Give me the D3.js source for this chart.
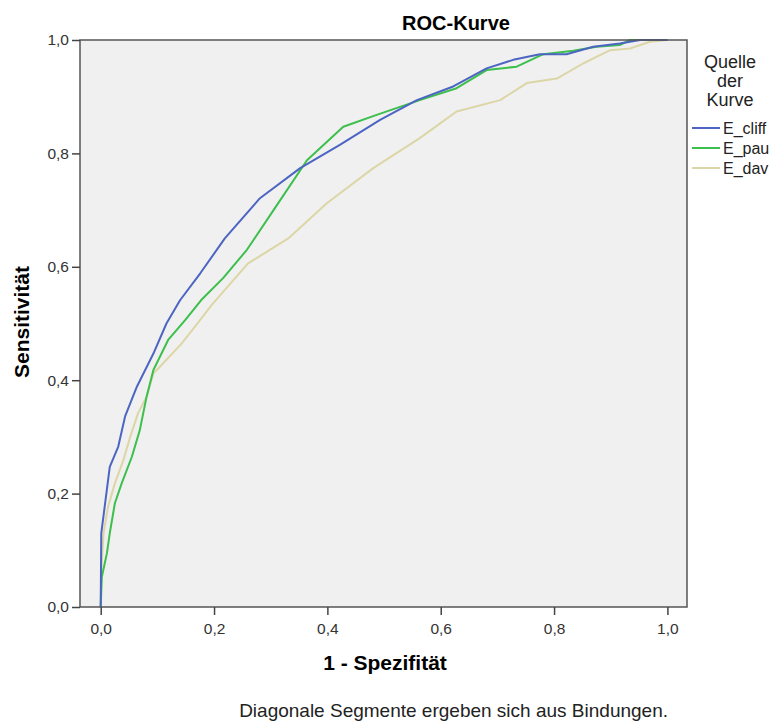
<!DOCTYPE html>
<html>
<head>
<meta charset="utf-8">
<script src="https://cdn.jsdelivr.net/npm/d3@7"></script>
<style>
  body { margin: 0; background: #fff; }
  svg { font-family: 'Liberation Sans', Arial, sans-serif; }
</style>
</head>
<body>
<div id="chart"></div>
<script>
// ROC points: [1 - Spezifität, Sensitivität]
const cliff = [
  [0, 0], [0.001, 0.13], [0.016, 0.247], [0.031, 0.283], [0.043, 0.336],
  [0.064, 0.389], [0.093, 0.447], [0.116, 0.5], [0.14, 0.541], [0.176, 0.589],
  [0.219, 0.65], [0.281, 0.721], [0.352, 0.774], [0.422, 0.815], [0.493, 0.859],
  [0.558, 0.894], [0.622, 0.918], [0.681, 0.95], [0.728, 0.965], [0.775, 0.975],
  [0.822, 0.975], [0.869, 0.988], [0.916, 0.994], [0.952, 1], [1, 1]
]
const pau = [
  [0, 0], [0.002, 0.053], [0.011, 0.095], [0.016, 0.13], [0.025, 0.183],
  [0.037, 0.218], [0.055, 0.265], [0.069, 0.312], [0.081, 0.371], [0.093, 0.418],
  [0.119, 0.471], [0.149, 0.506], [0.177, 0.541], [0.216, 0.58], [0.258, 0.63],
  [0.305, 0.7], [0.364, 0.788], [0.428, 0.847], [0.487, 0.868], [0.563, 0.894],
  [0.628, 0.915], [0.681, 0.947], [0.734, 0.953], [0.781, 0.975], [0.834, 0.981],
  [0.875, 0.988], [0.916, 0.991], [0.934, 1], [1, 1]
]
const dav = [
  [0, 0], [0.001, 0.06], [0.005, 0.13], [0.013, 0.177], [0.025, 0.218],
  [0.04, 0.259], [0.052, 0.3], [0.066, 0.342], [0.081, 0.371], [0.093, 0.412],
  [0.102, 0.421], [0.143, 0.465], [0.166, 0.494], [0.196, 0.533], [0.26, 0.606],
  [0.331, 0.65], [0.399, 0.712], [0.481, 0.774], [0.563, 0.827], [0.599, 0.853],
  [0.628, 0.874], [0.705, 0.894], [0.752, 0.924], [0.805, 0.932], [0.852, 0.959],
  [0.899, 0.982], [0.934, 0.985], [0.969, 0.997], [1, 1]
]
const seriesNames = ['E_cliff', 'E_pau', 'E_dav']
const seriesColors = ['#4d65c2', '#3cbf4c', '#dcd6a6']
const tickValues = [0, 0.2, 0.4, 0.6, 0.8, 1.0]

const series = [cliff, pau, dav].map((values, i) => ({
  name: seriesNames[i], color: seriesColors[i], values
}))

const width = 771
const height = 722
const frame = { left: 80, right: 687, top: 40, bottom: 607 }

const x = d3.scaleLinear().domain([0, 1]).range([100.7, 667.4])
const y = d3.scaleLinear().domain([0, 1]).range([frame.bottom, frame.top])
const fmt = d => d3.format('.1f')(d).replace('.', ',')

const svg = d3.select('#chart')
  .append('svg')
  .attr('width', width)
  .attr('height', height)

// plot background
svg.append('rect')
  .attr('x', frame.left)
  .attr('y', frame.top)
  .attr('width', frame.right - frame.left)
  .attr('height', frame.bottom - frame.top)
  .attr('fill', '#f0f0f0')

// curves (first series on top)
const line = d3.line().x(d => x(d[0])).y(d => y(d[1]))
svg.append('g')
  .selectAll('path')
  .data(series.slice().reverse())
  .join('path')
  .attr('fill', 'none')
  .attr('stroke', d => d.color)
  .attr('stroke-width', 2)
  .attr('stroke-linejoin', 'round')
  .attr('d', d => line(d.values))

// frame
svg.append('rect')
  .attr('x', frame.left)
  .attr('y', frame.top)
  .attr('width', frame.right - frame.left)
  .attr('height', frame.bottom - frame.top)
  .attr('fill', 'none')
  .attr('stroke', '#555')
  .attr('stroke-width', 1.5)

// axes
const xAxis = svg.append('g')
  .attr('transform', `translate(0,${frame.bottom})`)
  .call(d3.axisBottom(x).tickValues(tickValues).tickFormat(fmt).tickSize(8).tickSizeOuter(0))
xAxis.select('.domain').remove()

const yAxis = svg.append('g')
  .attr('transform', `translate(${frame.left},0)`)
  .call(d3.axisLeft(y).tickValues(tickValues).tickFormat(fmt).tickSize(8).tickSizeOuter(0))
yAxis.select('.domain').remove()

svg.selectAll('.tick line').attr('stroke', '#444').attr('stroke-width', 1.5)
svg.selectAll('.tick text')
  .attr('fill', '#333')
  .style('font-family', "'Liberation Sans', Arial, sans-serif")
  .style('font-size', '15.5px')
xAxis.selectAll('.tick text').attr('y', 13).attr('dy', '0.9em')

// title and axis titles
svg.append('text')
  .attr('x', 456).attr('y', 30)
  .attr('text-anchor', 'middle')
  .style('font-size', '20px').style('font-weight', 'bold')
  .text('ROC-Kurve')

svg.append('text')
  .attr('x', 385).attr('y', 670)
  .attr('text-anchor', 'middle')
  .style('font-size', '21px').style('font-weight', 'bold')
  .text('1 - Spezifität')

svg.append('text')
  .attr('transform', 'translate(29,322) rotate(-90)')
  .attr('text-anchor', 'middle')
  .style('font-size', '21px').style('font-weight', 'bold')
  .text('Sensitivität')

svg.append('text')
  .attr('x', 668).attr('y', 717)
  .attr('text-anchor', 'end')
  .attr('fill', '#222')
  .style('font-size', '19px')
  .text('Diagonale Segmente ergeben sich aus Bindungen.')

// legend
const legendTitle = svg.append('text')
  .attr('text-anchor', 'middle')
  .attr('fill', '#222')
  .style('font-size', '18px')
legendTitle.selectAll('tspan')
  .data(['Quelle', 'der', 'Kurve'])
  .join('tspan')
  .attr('x', 730)
  .attr('y', (d, i) => 68 + i * 19)
  .text(d => d)

const legend = svg.append('g')
  .selectAll('g')
  .data(series)
  .join('g')
  .attr('transform', (d, i) => `translate(692,${128 + i * 20})`)

legend.append('line')
  .attr('x1', 0).attr('x2', 28)
  .attr('stroke', d => d.color)
  .attr('stroke-width', 2)

legend.append('text')
  .attr('x', 31).attr('dy', '0.35em')
  .attr('fill', '#222')
  .style('font-size', '16px')
  .text(d => d.name)
</script>
</body>
</html>
